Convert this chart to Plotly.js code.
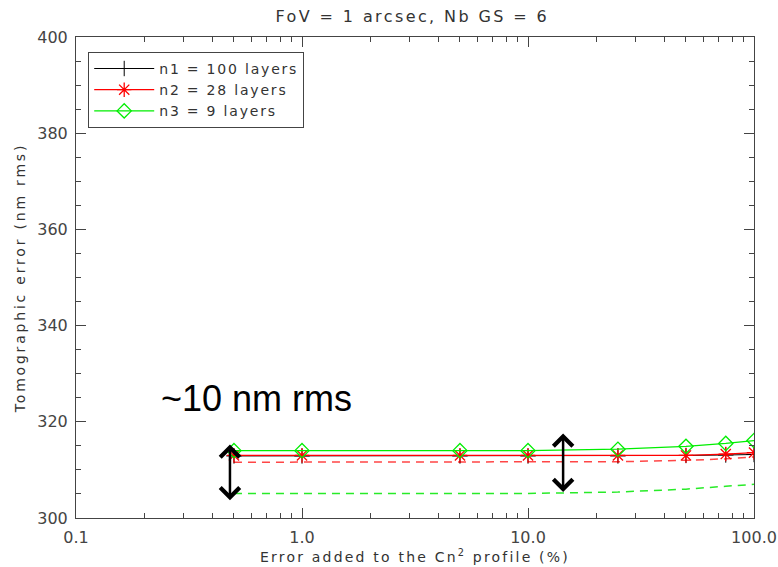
<!DOCTYPE html>
<html>
<head>
<meta charset="utf-8">
<script src="https://cdn.plot.ly/plotly-3.0.1.min.js"></script>
<style>
html,body{margin:0;padding:0;background:#fff;}
#chart{width:778px;height:567px;}
.gtitle{letter-spacing:2.4px;}
.legendtext{letter-spacing:1.8px;}
.xtitle{letter-spacing:2.2px;}
.ytitle{letter-spacing:2.8px;}
</style>
</head>
<body>
<div id="chart"></div>
<script>
// Data
const errPct = [0.5, 1, 5, 10, 25, 50, 75, 100];
const n1Solid = [312.9, 312.9, 312.9, 312.9, 312.9, 313.0, 313.1, 313.2];
const n2Solid = [313.0, 313.0, 313.0, 313.0, 313.0, 313.0, 313.3, 313.6];
const n3Solid = [314.0, 314.0, 314.0, 314.0, 314.3, 314.9, 315.5, 316.1];
const n2Dashed = [311.6, 311.6, 311.6, 311.6, 311.7, 312.0, 312.3, 312.7];
const n3Dashed = [305.1, 305.1, 305.1, 305.1, 305.4, 306.0, 306.6, 307.0];
const legendNames = ['n1 = 100 layers', 'n2 = 28 layers', 'n3 = 9 layers'];
const xTickVals = [0.1, 1, 10, 100];
const xTickText = ['0.1', '1.0', '10.0', '100.0'];
const xMinorVals = [0.2,0.3,0.4,0.5,0.6,0.7,0.8,0.9,2,3,4,5,6,7,8,9,20,30,40,50,60,70,80,90];
const yTickVals = [300, 320, 340, 360, 380, 400];
// arrows: [x, yBottom, yTop]
const arrow1 = [0.48, 303.7, 315.6];
const arrow2 = [14.3, 305.4, 317.9];

const font = 'DejaVu Sans, sans-serif';
const traces = [
  {x: errPct, y: n2Dashed, mode: 'lines', line: {color: 'rgb(255,70,70)', width: 1.5, dash: '8px,6px'}, showlegend: false, hoverinfo: 'skip'},
  {x: errPct, y: n3Dashed, mode: 'lines', line: {color: 'rgb(40,235,40)', width: 1.5, dash: '8px,6px'}, showlegend: false, hoverinfo: 'skip'},
  {x: errPct, y: n1Solid, mode: 'lines+markers', name: legendNames[0], line: {color: '#000', width: 1}, marker: {symbol: 'cross-thin-open', size: 11, color: '#000', line: {width: 1, color: '#000'}}},
  {x: errPct, y: n2Solid, mode: 'lines+markers', name: legendNames[1], line: {color: '#ff0000', width: 1.2}, marker: {symbol: 'asterisk-open', size: 12, color: '#ff0000', line: {width: 1.3, color: '#ff0000'}}},
  {x: errPct, y: n3Solid, mode: 'lines+markers', name: legendNames[2], line: {color: '#00ee00', width: 1.2}, marker: {symbol: 'diamond-open', size: 11, color: '#00ee00', line: {width: 1.3, color: '#00ee00'}}}
];

function arrowAnn(a) {
  return {x: Math.log10(a[0]), y: a[1], ax: Math.log10(a[0]), ay: a[2], xref: 'x', yref: 'y', axref: 'x', ayref: 'y',
    showarrow: true, arrowhead: 4, startarrowhead: 4, arrowside: 'end+start', arrowwidth: 2.5, arrowsize: 1.5, startarrowsize: 1.5, arrowcolor: '#000', text: ''};
}

const layout = {
  width: 778, height: 567,
  margin: {l: 76, r: 24, t: 37, b: 49},
  paper_bgcolor: '#fff', plot_bgcolor: '#fff',
  font: {family: font, color: '#333', size: 14},
  title: {text: 'FoV = 1 arcsec, Nb GS = 6', x: 0.53, xanchor: 'center', y: 0.971, yanchor: 'middle', font: {family: font, size: 16, color: '#333'}},
  xaxis: {type: 'log', range: [-1, 2], tickvals: xTickVals, ticktext: xTickText, ticks: 'inside', ticklen: 10, tickcolor: '#444',
    minor: {tickvals: xMinorVals, ticks: 'inside', ticklen: 5, tickcolor: '#444'},
    showline: true, linecolor: '#444', linewidth: 1, mirror: 'allticks', showgrid: false, zeroline: false,
    ticklabelstandoff: 5,
    tickfont: {family: font, size: 16, color: '#444'},
    title: {text: 'Error added to the Cn<sup>2</sup> profile (%)', font: {family: font, size: 14, color: '#333'}, standoff: 4}},
  yaxis: {range: [300, 400], tickvals: yTickVals, ticks: 'inside', ticklen: 10, tickcolor: '#444',
    minor: {dtick: 5, ticks: 'inside', ticklen: 5, tickcolor: '#444'},
    showline: true, linecolor: '#444', linewidth: 1, mirror: 'allticks', showgrid: false, zeroline: false,
    ticklabelstandoff: 4,
    tickfont: {family: font, size: 16, color: '#444'},
    title: {text: 'Tomographic error (nm rms)', font: {family: font, size: 14, color: '#333'}, standoff: 8}},
  legend: {x: 0.018, y: 0.969, xanchor: 'left', yanchor: 'top', bordercolor: '#444', borderwidth: 1, bgcolor: '#fff',
    font: {family: font, size: 14, color: '#333'}, itemwidth: 60, tracegroupgap: 0},
  annotations: [
    {text: '~10 nm rms', xref: 'paper', yref: 'paper', x: 0.266, y: 0.249, xanchor: 'center', yanchor: 'middle', showarrow: false,
      font: {family: 'Liberation Sans, Arial, sans-serif', size: 36, color: '#000'}},
    arrowAnn(arrow1), arrowAnn(arrow2)
  ],
  showlegend: true
};

Plotly.newPlot('chart', traces, layout, {displayModeBar: false, staticPlot: true});
</script>
</body>
</html>
